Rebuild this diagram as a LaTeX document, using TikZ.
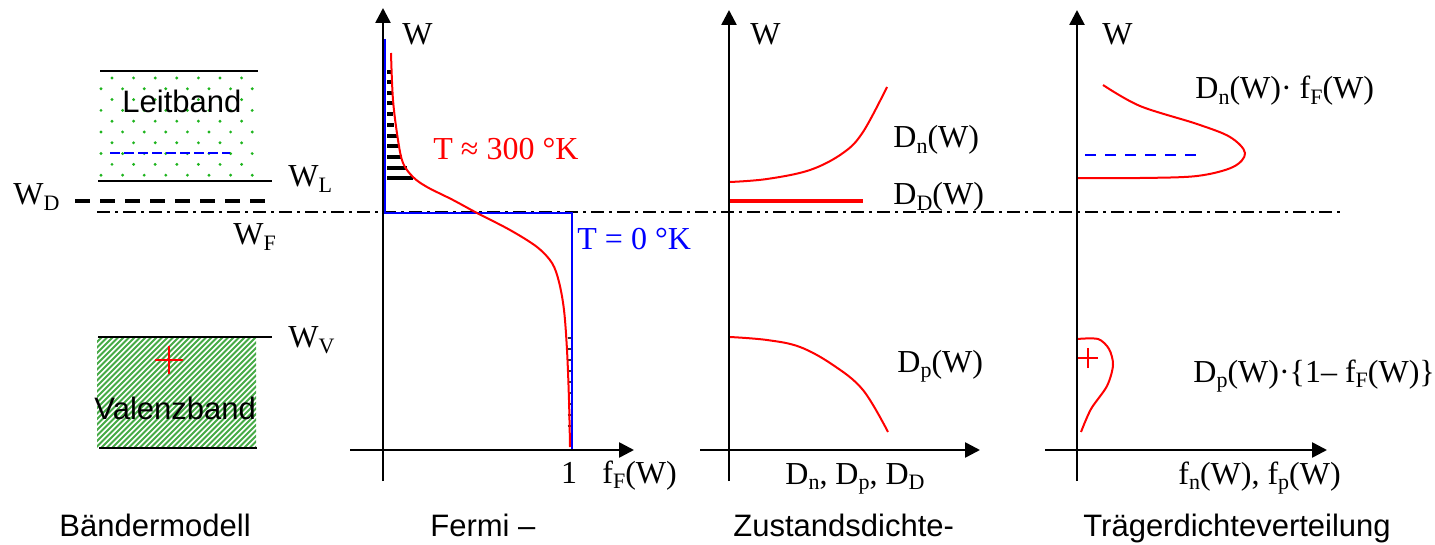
\documentclass[tikz,border=0pt]{standalone}
\usepackage{fontspec}
\setmainfont{Liberation Serif}
\newfontfamily\sansf{Liberation Sans}
\usetikzlibrary{arrows.meta}
\newcommand\lsub[1]{\raisebox{-2.6pt}{\fontsize{11}{11}\selectfont #1}}
\definecolor{bandgreen}{RGB}{70,170,70}
\definecolor{dotgreen}{RGB}{30,180,30}
\begin{document}
\begin{tikzpicture}[x=0.5pt,y=-0.5pt,
  lbl/.style={anchor=base west, inner sep=0pt, font=\fontsize{16}{16}\selectfont},
  capt/.style={anchor=base west, inner sep=0pt, font=\sansf\fontsize{15.5}{15.5}\selectfont},
  axisline/.style={line width=1.3pt, -{Triangle[length=7.5pt,width=7.5pt]}},
  bandline/.style={line width=1pt},
  redcurve/.style={red, line width=1pt},
  bluecurve/.style={blue, line width=1.2pt},
  fermilevel/.style={line width=1pt, dash pattern=on 6.5pt off 2.5pt on 1.5pt off 2.5pt},
  donorlevel/.style={line width=2pt, dash pattern=on 7.5pt off 5pt},
  hatchline/.style={black, line width=1.6pt},
  plussign/.style={red, line width=1.2pt}
]
\useasboundingbox (0,0) rectangle (1435,545);

% ---------- Bändermodell ----------
% dotted conduction band
\foreach \i in {0,...,9}{
  \pgfmathsetmacro\yy{78+10.8*\i}
  \ifodd\i
    \foreach \k in {0,...,7}{ \fill[dotgreen] ({101+21.6*\k},\yy) circle (1.6); }
  \else
    \foreach \k in {0,...,6}{ \fill[dotgreen] ({112+21.6*\k},\yy) circle (1.6); }
  \fi
}
% hatched valence band
\begin{scope}
  \clip (97,337) rectangle (256,448);
  \foreach \x in {-20,-14.5,...,260}{
    \draw[bandgreen, line width=0.9pt] (\x,448) -- ({\x+111},337);
  }
\end{scope}

\coordinate (LBtopA) at (100,71);  \coordinate (LBtopB) at (258,71);
\coordinate (WLa) at (98,181);     \coordinate (WLb) at (272,181);
\coordinate (WDa) at (75,201);     \coordinate (WDb) at (274,201);
\coordinate (WFa) at (97,212);     \coordinate (WFb) at (1345,212);
\coordinate (WVa) at (98,337);     \coordinate (WVb) at (272,337);
\coordinate (VBbotA) at (99,448);  \coordinate (VBbotB) at (257,448);
\coordinate (LBdashA) at (110,153); \coordinate (LBdashB) at (230,153);

\draw[bandline] (LBtopA) -- (LBtopB);
\draw[bandline] (WLa) -- (WLb);
\draw[bandline] (WVa) -- (WVb);
\draw[bandline] (VBbotA) -- (VBbotB);
\draw[donorlevel] (WDa) -- (WDb);
\draw[fermilevel] (WFa) -- (WFb);
\draw[blue, line width=0.8pt, dash pattern=on 5pt off 2pt] (LBdashA) -- (LBdashB);

\coordinate (plusA) at (169,360);
\draw[plussign, line width=1.4pt] ([xshift=-7]plusA) -- ([xshift=7]plusA) ([yshift=-7]plusA) -- ([yshift=7]plusA);

\node[capt] (leit) at (122,113) {Leitband};
\node[capt] (valenz) at (94,419) {Valenzband};
\node[lbl] (WD) at (13,205) {W\lsub{D}};
\node[lbl] (WL) at (288,187) {W\lsub{L}};
\node[lbl] (WF) at (233,245) {W\lsub{F}};
\node[lbl] (WV) at (288,348) {W\lsub{V}};
\node[capt] (cap1) at (59,536) {Bändermodell};

% ---------- Fermi ----------
\coordinate (FyB) at (383,481); \coordinate (FyT) at (383,8);
\coordinate (FxL) at (350,450); \coordinate (FxR) at (634,450);
\coordinate (B1) at (385,39); \coordinate (B2) at (385,213);
\coordinate (B3) at (572,213); \coordinate (B4) at (572,450);
\draw[bluecurve] (B1) -- (B2) -- (B3) -- (B4);
\foreach \yy/\xe in {72/392,82/392,93/392,103/393,114/393,125/394,136/397,146/399,157/402,168/407,178/413}{
  \draw[hatchline] (387,\yy) -- (\xe,\yy);
}
\foreach \yy in {338,349,360,371,382,393,404,415,426}{
  \draw[black!80, line width=1.3pt] (567.5,\yy) -- (571,\yy);
}
\draw[redcurve] plot[smooth, tension=0.55] coordinates {(391,53) (393,100) (398,140) (403,163) (413,177) (427,187) (453,200) (477,213) (510,230) (537,247) (552,263) (559,282) (564,310) (567,350) (569,400) (570,447)};
\draw[axisline] (FyB) -- (FyT);
\draw[axisline] (FxL) -- (FxR);
\node[lbl] (Wf) at (402,45) {W};
\node[lbl, red] (T300) at (433,160) {T ≈ 300 °K};
\node[lbl, blue] (T0) at (577,250) {T = 0 °K};
\node[lbl, anchor=base] (one) at (569,483) {1};
\node[lbl] (fF) at (602,483) {f\lsub{F}(W)};
\node[capt] (cap2) at (430,536) {Fermi –};

% ---------- Zustandsdichte ----------
\coordinate (ZyB) at (729,481); \coordinate (ZyT) at (729,10);
\coordinate (ZxL) at (700,450); \coordinate (ZxR) at (980,450);
\coordinate (DDa) at (730,201); \coordinate (DDb) at (863,201);
\draw[redcurve] plot[smooth, tension=0.6] coordinates {(730,182) (767,179) (810,170) (843,153) (863,132) (887,87)};
\draw[redcurve] plot[smooth, tension=0.6] coordinates {(730,337) (767,340) (800,347) (833,365) (863,390) (888,432)};
\draw[red, line width=2.2pt] (DDa) -- (DDb);
\draw[axisline] (ZyB) -- (ZyT);
\draw[axisline] (ZxL) -- (ZxR);
\node[lbl] (Wz) at (750,45) {W};
\node[lbl] (Dn) at (893,148) {D\lsub{n}(W)};
\node[lbl] (DD) at (893,205) {D\lsub{D}(W)};
\node[lbl] (Dp) at (897,372) {D\lsub{p}(W)};
\node[lbl] (Dx) at (785,484) {D\lsub{n}, D\lsub{p}, D\lsub{D}};
\node[capt] (cap3) at (733,536) {Zustandsdichte-};

% ---------- Trägerdichteverteilung ----------
\coordinate (TyB) at (1077,481); \coordinate (TyT) at (1077,10);
\coordinate (TxL) at (1045,450); \coordinate (TxR) at (1327,450);
\coordinate (TBa) at (1085,155); \coordinate (TBb) at (1205,155);
\draw[redcurve] plot[smooth, tension=0.55] coordinates {(1103,85) (1140,106) (1197,124) (1230,137) (1245,153) (1233,167) (1197,176) (1140,178) (1077,178)};
\draw[redcurve] plot[smooth, tension=0.5] coordinates {(1077,339) (1098,339) (1109,349) (1113,365) (1107,386) (1091,409) (1081,432)};
\draw[blue, line width=0.8pt, dash pattern=on 5.5pt off 4.5pt] (TBa) -- (TBb);
\coordinate (plusB) at (1088,358);
\draw[plussign] ([xshift=-5]plusB) -- ([xshift=5]plusB) ([yshift=-5]plusB) -- ([yshift=5]plusB);
\draw[axisline] (TyB) -- (TyT);
\draw[axisline] (TxL) -- (TxR);
\node[lbl] (Wt) at (1102,45) {W};
\node[lbl] (nF) at (1195,99) {D\lsub{n}(W)\textperiodcentered{} f\lsub{F}(W)};
\node[lbl] (pF) at (1193,382) {D\lsub{p}(W)\textperiodcentered\{1– f\lsub{F}(W)\}};
\node[lbl] (fnp) at (1178,484) {f\lsub{n}(W), f\lsub{p}(W)};
\node[capt] (cap4) at (1083,536) {Trägerdichteverteilung};
\end{tikzpicture}
\end{document}
